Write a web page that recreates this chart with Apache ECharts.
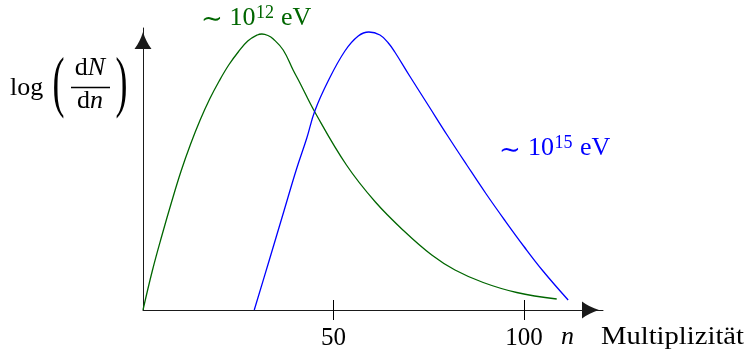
<!DOCTYPE html>
<html>
<head>
<meta charset="utf-8">
<script src="https://cdn.jsdelivr.net/npm/echarts@6/dist/echarts.min.js"></script>
<style>
  html, body { margin: 0; padding: 0; background: #ffffff; }
  #chart { width: 747px; height: 356px; }
</style>
</head>
<body>
<div id="chart"></div>
<script>
// Multiplicity distributions of produced particles, log(dN/dn) vs n
// ~10^12 eV primary energy
const lowN    = [0, 2.5, 5, 7.5, 10, 12.5, 15, 17.5, 20, 22.5, 25, 27.5, 30, 31.2, 32.8, 34.2, 36.8, 39.4, 41.2, 45.1, 53.4, 61.0, 68.8, 75.8, 81.9, 89.3, 98.1, 108.6];
const lowDens = [0, 40, 75, 108, 139, 166, 190, 211, 229, 245, 258, 269, 275, 276, 274.5, 271, 260, 240, 227, 198, 145, 108, 78, 55, 40, 27.5, 17.5, 11];
// ~10^15 eV primary energy
const highN    = [29.2, 33, 37, 40.3, 43, 45.1, 48.6, 53.0, 56.5, 59.3, 62.2, 64.4, 66.1, 70, 75, 80, 85, 90, 95, 100, 105, 111.6];
const highDens = [0, 48, 99, 141, 172, 199, 229, 259, 274, 278, 275, 267, 258, 234, 204, 174, 145, 116.5, 89.5, 63.5, 39, 10];
// Labelled positions on the multiplicity axis
const xTicks = [50, 100];

const X_MAX = 120.75;
const Y_MAX = 282;
const SERIF = "'Liberation Serif', 'DejaVu Serif', serif";
const GREEN = '#006600';
const BLUE = '#0000ff';
const AXIS = '#1a1a1a';
// Arrow head pointing up; ECharts rotates it onto each axis end
const ARROW = 'path://M50,0 Q68,58 100,100 L0,100 Q32,58 50,0 Z';

function pairs(xs, ys) { return xs.map((x, i) => [x, ys[i]]); }

function txt(text, x, y, size, color, opts) {
  return Object.assign({
    type: 'text',
    style: Object.assign({
      text: text, x: x, y: y,
      fontSize: size, fontFamily: SERIF,
      fill: color || '#000',
      align: 'left', verticalAlign: 'middle'
    }, (opts && opts.style) || {})
  }, (opts && opts.el) || {});
}

const arrowLine = {
  show: true,
  lineStyle: { color: AXIS, width: 1 },
  symbol: ['none', ARROW],
  symbolSize: [17, 25],
  symbolOffset: [0, -12.5]
};

const chart = echarts.init(document.getElementById('chart'), null, { renderer: 'canvas' });

chart.setOption({
  animation: false,
  backgroundColor: '#ffffff',
  grid: { left: 143, right: 144, top: 28, bottom: 46, containLabel: false },
  xAxis: [
    {
      type: 'value', min: 0, max: X_MAX, position: 'bottom',
      axisLine: arrowLine,
      axisTick: { show: true, inside: false, length: 10, customValues: xTicks,
                  lineStyle: { color: '#000', width: 1 } },
      axisLabel: { show: true, customValues: xTicks, margin: 28, verticalAlign: 'middle',
                   fontSize: 25, fontFamily: SERIF, color: '#000' },
      splitLine: { show: false }
    },
    {
      type: 'value', min: 0, max: X_MAX, position: 'bottom',
      axisLine: { show: false },
      axisTick: { show: true, inside: true, length: 10, customValues: xTicks,
                  lineStyle: { color: '#000', width: 1 } },
      axisLabel: { show: false },
      splitLine: { show: false }
    }
  ],
  yAxis: {
    type: 'value', min: 0, max: Y_MAX,
    axisLine: arrowLine,
    axisTick: { show: false },
    axisLabel: { show: false },
    splitLine: { show: false }
  },
  series: [
    {
      name: '~10^12 eV', type: 'line', xAxisIndex: 0, yAxisIndex: 0,
      data: pairs(lowN, lowDens), smooth: 0.4, showSymbol: false,
      lineStyle: { color: GREEN, width: 1.3 }, z: 3
    },
    {
      name: '~10^15 eV', type: 'line', xAxisIndex: 0, yAxisIndex: 0,
      data: pairs(highN, highDens), smooth: 0.4, showSymbol: false,
      lineStyle: { color: BLUE, width: 1.3 }, z: 3
    }
  ],
  graphic: [
    // y-axis title: log( dN / dn )
    txt('log', 10, 88.5, 26, '#000'),
    txt('(', 58.5, 86.5, 36, '#000', { style: { align: 'center' }, el: { scaleY: 1.9, originX: 58.5, originY: 86.5 } }),
    {
      type: 'text',
      style: {
        text: '{u|d}{i|N}', x: 90, y: 68, align: 'center', verticalAlign: 'middle',
        rich: {
          u: { fontSize: 26, fontFamily: SERIF, fill: '#000' },
          i: { fontSize: 26, fontFamily: SERIF, fontStyle: 'italic', fill: '#000' }
        }
      }
    },
    { type: 'line', shape: { x1: 71, y1: 87.5, x2: 110, y2: 87.5 }, style: { stroke: '#000', lineWidth: 1.4 } },
    {
      type: 'text',
      style: {
        text: '{u|d}{i|n}', x: 90, y: 101.5, align: 'center', verticalAlign: 'middle',
        rich: {
          u: { fontSize: 26, fontFamily: SERIF, fill: '#000' },
          i: { fontSize: 26, fontFamily: SERIF, fontStyle: 'italic', fill: '#000' }
        }
      }
    },
    txt(')', 121.5, 86.5, 36, '#000', { style: { align: 'center' }, el: { scaleY: 1.9, originX: 121.5, originY: 86.5 } }),

    // x-axis title
    txt('n', 567.5, 337.6, 26, '#000', { style: { align: 'center', fontStyle: 'italic' } }),
    txt('Multiplizität', 601, 337.6, 26, '#000', { el: { scaleX: 1.1, originX: 601, originY: 337.6 } }),

    // curve labels
    txt('\u223C', 201, 20, 26, GREEN),
    txt('10', 229.5, 17.9, 26, GREEN),
    txt('12', 256, 12.8, 18, GREEN),
    txt('eV', 281, 17.9, 26, GREEN),

    txt('\u223C', 499, 151, 26, BLUE),
    txt('10', 528, 148.6, 26, BLUE),
    txt('15', 554.5, 143, 18, BLUE),
    txt('eV', 580, 148.6, 26, BLUE)
  ]
});
</script>
</body>
</html>
